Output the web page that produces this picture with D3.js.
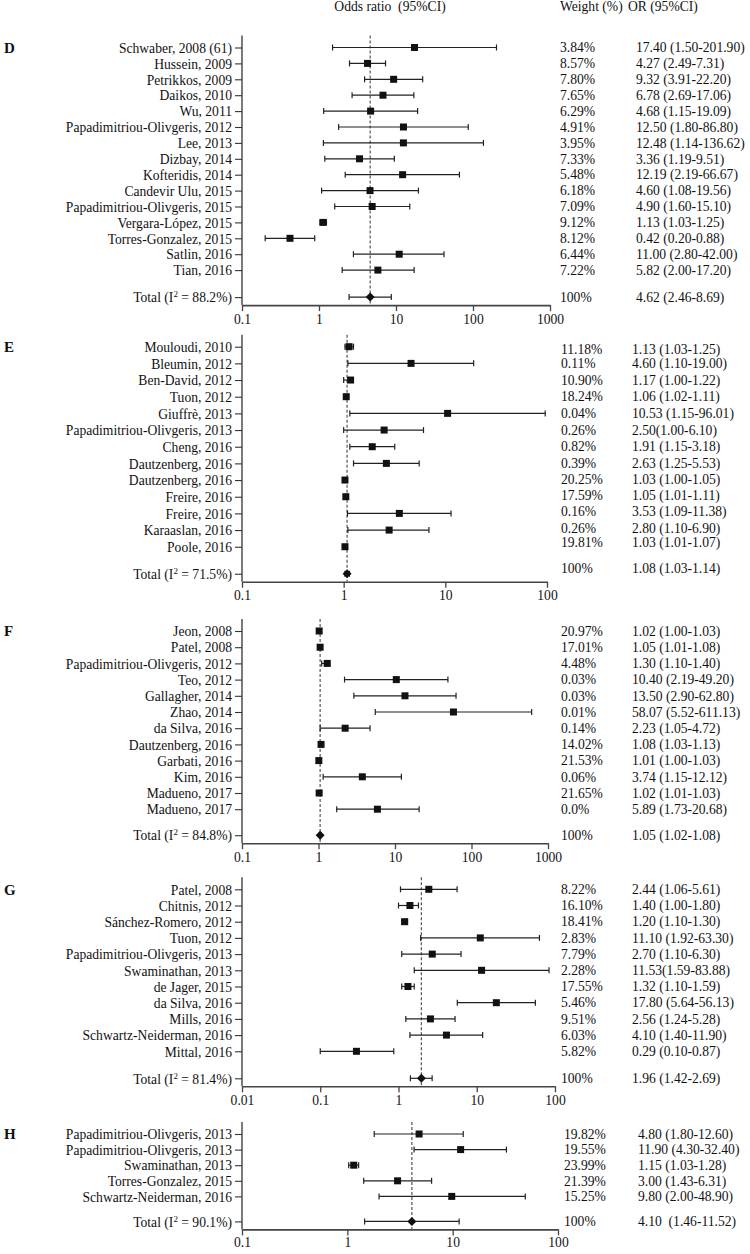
<!DOCTYPE html>
<html><head><meta charset="utf-8">
<script src="https://cdn.jsdelivr.net/npm/d3@7"></script>
<style>
body{margin:0;background:#fff}
svg text{font-family:"Liberation Serif","Times New Roman",serif;fill:#111}
</style></head><body>
<svg id="c" width="750" height="1254"></svg>
<script>
// ---------- Panel D ----------
const dStudies = ["Schwaber, 2008 (61)","Hussein, 2009","Petrikkos, 2009","Daikos, 2010","Wu, 2011","Papadimitriou-Olivgeris, 2012","Lee, 2013","Dizbay, 2014","Kofteridis, 2014","Candevir Ulu, 2015","Papadimitriou-Olivgeris, 2015","Vergara-López, 2015","Torres-Gonzalez, 2015","Satlin, 2016","Tian, 2016"];
const dOR = [17.40,4.27,9.32,6.78,4.68,12.50,12.48,3.36,12.19,4.60,4.90,1.13,0.42,11.00,5.82];
const dLo = [1.50,2.49,3.91,2.69,1.15,1.80,1.14,1.19,2.19,1.08,1.60,1.03,0.20,2.80,2.00];
const dHi = [201.90,7.31,22.20,17.06,19.09,86.80,136.62,9.51,66.67,19.56,15.10,1.25,0.88,42.00,17.20];
const dWeight = ["3.84%","8.57%","7.80%","7.65%","6.29%","4.91%","3.95%","7.33%","5.48%","6.18%","7.09%","9.12%","8.12%","6.44%","7.22%"];
const dText = ["17.40 (1.50-201.90)","4.27 (2.49-7.31)","9.32 (3.91-22.20)","6.78 (2.69-17.06)","4.68 (1.15-19.09)","12.50 (1.80-86.80)","12.48 (1.14-136.62)","3.36 (1.19-9.51)","12.19 (2.19-66.67)","4.60 (1.08-19.56)","4.90 (1.60-15.10)","1.13 (1.03-1.25)","0.42 (0.20-0.88)","11.00 (2.80-42.00)","5.82 (2.00-17.20)"];
const dPooled = [4.62,2.46,8.69];
const dPooledText = "4.62 (2.46-8.69)";
const dI2 = "88.2%";
const dTicks = [0.1,1,10,100,1000];
const dTickLabels = ["0.1","1","10","100","1000"];

// ---------- Panel E ----------
const eStudies = ["Mouloudi, 2010","Bleumin, 2012","Ben-David, 2012","Tuon, 2012","Giuffrè, 2013","Papadimitriou-Olivgeris, 2013","Cheng, 2016","Dautzenberg, 2016","Dautzenberg, 2016","Freire, 2016","Freire, 2016","Karaaslan, 2016","Poole, 2016"];
const eOR = [1.13,4.60,1.17,1.06,10.53,2.50,1.91,2.63,1.03,1.05,3.53,2.80,1.03];
const eLo = [1.03,1.10,1.00,1.02,1.15,1.00,1.15,1.25,1.00,1.01,1.09,1.10,1.01];
const eHi = [1.25,19.00,1.22,1.11,96.01,6.10,3.18,5.53,1.05,1.11,11.38,6.90,1.07];
const eWeight = ["11.18%","0.11%","10.90%","18.24%","0.04%","0.26%","0.82%","0.39%","20.25%","17.59%","0.16%","0.26%","19.81%"];
const eText = ["1.13 (1.03-1.25)","4.60 (1.10-19.00)","1.17 (1.00-1.22)","1.06 (1.02-1.11)","10.53 (1.15-96.01)","2.50(1.00-6.10)","1.91 (1.15-3.18)","2.63 (1.25-5.53)","1.03 (1.00-1.05)","1.05 (1.01-1.11)","3.53 (1.09-11.38)","2.80 (1.10-6.90)","1.03 (1.01-1.07)"];
const ePooled = [1.08,1.03,1.14];
const ePooledText = "1.08 (1.03-1.14)";
const eI2 = "71.5%";
const eTicks = [0.1,1,10,100];
const eTickLabels = ["0.1","1","10","100"];

// ---------- Panel F ----------
const fStudies = ["Jeon, 2008","Patel, 2008","Papadimitriou-Olivgeris, 2012","Teo, 2012","Gallagher, 2014","Zhao, 2014","da Silva, 2016","Dautzenberg, 2016","Garbati, 2016","Kim, 2016","Madueno, 2017","Madueno, 2017"];
const fOR = [1.02,1.05,1.30,10.40,13.50,58.07,2.23,1.08,1.01,3.74,1.02,5.89];
const fLo = [1.00,1.01,1.10,2.19,2.90,5.52,1.05,1.03,1.00,1.15,1.01,1.73];
const fHi = [1.03,1.08,1.40,49.20,62.80,611.13,4.72,1.13,1.03,12.12,1.03,20.68];
const fWeight = ["20.97%","17.01%","4.48%","0.03%","0.03%","0.01%","0.14%","14.02%","21.53%","0.06%","21.65%","0.0%"];
const fText = ["1.02 (1.00-1.03)","1.05 (1.01-1.08)","1.30 (1.10-1.40)","10.40 (2.19-49.20)","13.50 (2.90-62.80)","58.07 (5.52-611.13)","2.23 (1.05-4.72)","1.08 (1.03-1.13)","1.01 (1.00-1.03)","3.74 (1.15-12.12)","1.02 (1.01-1.03)","5.89 (1.73-20.68)"];
const fPooled = [1.05,1.02,1.08];
const fPooledText = "1.05 (1.02-1.08)";
const fI2 = "84.8%";
const fTicks = [0.1,1,10,100,1000];
const fTickLabels = ["0.1","1","10","100","1000"];

// ---------- Panel G ----------
const gStudies = ["Patel, 2008","Chitnis, 2012","Sánchez-Romero, 2012","Tuon, 2012","Papadimitriou-Olivgeris, 2013","Swaminathan, 2013","de Jager, 2015","da Silva, 2016","Mills, 2016","Schwartz-Neiderman, 2016","Mittal, 2016"];
const gOR = [2.44,1.40,1.20,11.10,2.70,11.53,1.32,17.80,2.56,4.10,0.29];
const gLo = [1.06,1.00,1.10,1.92,1.10,1.59,1.10,5.64,1.24,1.40,0.10];
const gHi = [5.61,1.80,1.30,63.30,6.30,83.88,1.59,56.13,5.28,11.90,0.87];
const gWeight = ["8.22%","16.10%","18.41%","2.83%","7.79%","2.28%","17.55%","5.46%","9.51%","6.03%","5.82%"];
const gText = ["2.44 (1.06-5.61)","1.40 (1.00-1.80)","1.20 (1.10-1.30)","11.10 (1.92-63.30)","2.70 (1.10-6.30)","11.53(1.59-83.88)","1.32 (1.10-1.59)","17.80 (5.64-56.13)","2.56 (1.24-5.28)","4.10 (1.40-11.90)","0.29 (0.10-0.87)"];
const gPooled = [1.96,1.42,2.69];
const gPooledText = "1.96 (1.42-2.69)";
const gI2 = "81.4%";
const gTicks = [0.01,0.1,1,10,100];
const gTickLabels = ["0.01","0.1","1","10","100"];

// ---------- Panel H ----------
const hStudies = ["Papadimitriou-Olivgeris, 2013","Papadimitriou-Olivgeris, 2013","Swaminathan, 2013","Torres-Gonzalez, 2015","Schwartz-Neiderman, 2016"];
const hOR = [4.80,11.90,1.15,3.00,9.80];
const hLo = [1.80,4.30,1.03,1.43,2.00];
const hHi = [12.60,32.40,1.28,6.31,48.90];
const hWeight = ["19.82%","19.55%","23.99%","21.39%","15.25%"];
const hText = ["4.80 (1.80-12.60)","11.90 (4.30-32.40)","1.15 (1.03-1.28)","3.00 (1.43-6.31)","9.80 (2.00-48.90)"];
const hPooled = [4.10,1.46,11.52];
const hPooledText = "4.10  (1.46-11.52)";
const hI2 = "90.1%";
const hTicks = [0.1,1,10,100];
const hTickLabels = ["0.1","1","10","100"];

// ---------- Drawing ----------
const svg = d3.select("#c");
const FS = 13.6;
const AX = 242;

svg.append("text").attr("x", 390).attr("y", 11).attr("text-anchor","middle")
  .style("font-size", FS+"px").style("white-space","pre").text("Odds ratio  (95%CI)");
svg.append("text").attr("x", 560).attr("y", 11).style("font-size", FS+"px").text("Weight (%)");
svg.append("text").attr("x", 628).attr("y", 11).style("font-size", FS+"px").text("OR (95%CI)");

const panels = [
  {letter:"D", names:dStudies, or:dOR, lo:dLo, hi:dHi, w:dWeight, t:dText, pooled:dPooled, pooledText:dPooledText, i2:dI2, ticks:dTicks, tickLabels:dTickLabels, y0:47.5, step:15.9, gap:27, pad:3, xEnd:550, wx:560, ox:636, shift:null},
  {letter:"E", names:eStudies, or:eOR, lo:eLo, hi:eHi, w:eWeight, t:eText, pooled:ePooled, pooledText:ePooledText, i2:eI2, ticks:eTicks, tickLabels:eTickLabels, y0:346.7, step:16.67, gap:27, pad:3, xEnd:547, wx:561, ox:632,
   shift:[3,0,0,0,0,0,0,0,-0.7,-1,-1.7,-2,-5,-6]},
  {letter:"F", names:fStudies, or:fOR, lo:fLo, hi:fHi, w:fWeight, t:fText, pooled:fPooled, pooledText:fPooledText, i2:fI2, ticks:fTicks, tickLabels:fTickLabels, y0:631, step:16.2, gap:26, pad:3, xEnd:548, wx:561, ox:632, shift:null},
  {letter:"G", names:gStudies, or:gOR, lo:gLo, hi:gHi, w:gWeight, t:gText, pooled:gPooled, pooledText:gPooledText, i2:gI2, ticks:gTicks, tickLabels:gTickLabels, y0:889.3, step:16.2, gap:27, pad:3, xEnd:555, wx:561, ox:632, shift:null},
  {letter:"H", names:hStudies, or:hOR, lo:hLo, hi:hHi, w:hWeight, t:hText, pooled:hPooled, pooledText:hPooledText, i2:hI2, ticks:hTicks, tickLabels:hTickLabels, y0:1134, step:15.6, gap:25, pad:2, xEnd:558, wx:564, ox:638, shift:null}
];

panels.forEach(p => {
  const n = p.names.length;
  const idx = d3.range(n + 1); // last index = total row
  const lastY = p.y0 + (n - 1) * p.step;
  const totY = lastY + p.gap;
  const axisY = totY + 8;
  const topY = p.y0 - 12;
  const y = d3.scaleOrdinal().domain(idx).range(idx.map(i => i < n ? p.y0 + i * p.step : totY));
  const x = d3.scaleLog().domain([p.ticks[0], p.ticks[p.ticks.length - 1]]).range([AX, p.xEnd]);
  const g = svg.append("g");

  g.append("text").attr("x", 4).attr("y", p.y0).attr("dy","0.35em")
    .style("font-size","15px").style("font-weight","bold").text(p.letter);

  const yAxis = d3.axisLeft(y).tickSize(7).tickPadding(3)
    .tickFormat(i => i < n ? p.names[i] : "");
  const ya = g.append("g").attr("transform", `translate(${AX},0)`).call(yAxis);
  ya.select(".domain").remove();
  ya.selectAll(".tick line").attr("stroke","#333").attr("stroke-width",1.1);
  ya.selectAll(".tick text").attr("font-family", null).attr("font-size", null)
    .style("font-size", FS+"px").attr("dy","0.35em");
  const tt = ya.selectAll(".tick text").filter(i => i === n);
  tt.text("Total (I");
  tt.append("tspan").attr("baseline-shift","super").style("font-size","9px").text("2");
  tt.append("tspan").text(" = " + p.i2 + ")");

  g.append("line").attr("x1", AX).attr("x2", AX).attr("y1", topY).attr("y2", axisY)
    .attr("stroke","#333").attr("stroke-width",1.3);

  const xAxis = d3.axisBottom(x).tickValues(p.ticks).tickSizeInner(6).tickSizeOuter(0).tickPadding(p.pad)
    .tickFormat((d,i) => p.tickLabels[i]);
  const xa = g.append("g").attr("transform", `translate(0,${axisY})`).call(xAxis);
  xa.select(".domain").attr("stroke","#444").attr("stroke-width",1.6);
  xa.selectAll(".tick line").attr("stroke","#444").attr("stroke-width",1.3);
  xa.selectAll(".tick text").attr("font-family", null).attr("font-size", null).style("font-size", FS+"px");

  g.append("line").attr("x1", x(p.pooled[0])).attr("x2", x(p.pooled[0]))
    .attr("y1", topY).attr("y2", axisY)
    .attr("stroke","#555").attr("stroke-width",1.2).attr("stroke-dasharray","3,2");

  const rows = d3.range(n);
  const capH = 3;
  g.selectAll(".ci").data(rows).join("line")
    .attr("x1", i => x(p.lo[i])).attr("x2", i => x(p.hi[i]))
    .attr("y1", i => y(i)).attr("y2", i => y(i))
    .attr("stroke","#222").attr("stroke-width",1.2);
  g.selectAll(".capl").data(rows).join("line")
    .attr("x1", i => x(p.lo[i])).attr("x2", i => x(p.lo[i]))
    .attr("y1", i => y(i) - capH).attr("y2", i => y(i) + capH)
    .attr("stroke","#222").attr("stroke-width",1.2);
  g.selectAll(".caph").data(rows).join("line")
    .attr("x1", i => x(p.hi[i])).attr("x2", i => x(p.hi[i]))
    .attr("y1", i => y(i) - capH).attr("y2", i => y(i) + capH)
    .attr("stroke","#222").attr("stroke-width",1.2);
  const s = 7;
  g.selectAll(".sq").data(rows).join("rect")
    .attr("x", i => x(p.or[i]) - s/2).attr("y", i => y(i) - s/2)
    .attr("width", s).attr("height", s).attr("fill","#111");

  const py = y(n);
  [[x(p.pooled[1]), x(p.pooled[2]), py, py],
   [x(p.pooled[1]), x(p.pooled[1]), py - capH, py + capH],
   [x(p.pooled[2]), x(p.pooled[2]), py - capH, py + capH]].forEach(c => {
    g.append("line").attr("x1", c[0]).attr("x2", c[1]).attr("y1", c[2]).attr("y2", c[3])
      .attr("stroke","#222").attr("stroke-width",1.2);
  });
  const px = x(p.pooled[0]);
  g.append("path").attr("d", `M${px-4.5},${py}L${px},${py-4.5}L${px+4.5},${py}L${px},${py+4.5}Z`).attr("fill","#111");

  const ty = i => y(i) + (p.shift ? p.shift[i] : 0);
  g.selectAll(".wt").data(idx).join("text")
    .attr("x", p.wx).attr("y", ty).attr("dy","0.35em").style("font-size", FS+"px")
    .text(i => i < n ? p.w[i] : "100%");
  g.selectAll(".ort").data(idx).join("text")
    .attr("x", p.ox).attr("y", ty).attr("dy","0.35em").style("font-size", FS+"px")
    .style("white-space","pre")
    .text(i => i < n ? p.t[i] : p.pooledText);
});
</script>
</body></html>
